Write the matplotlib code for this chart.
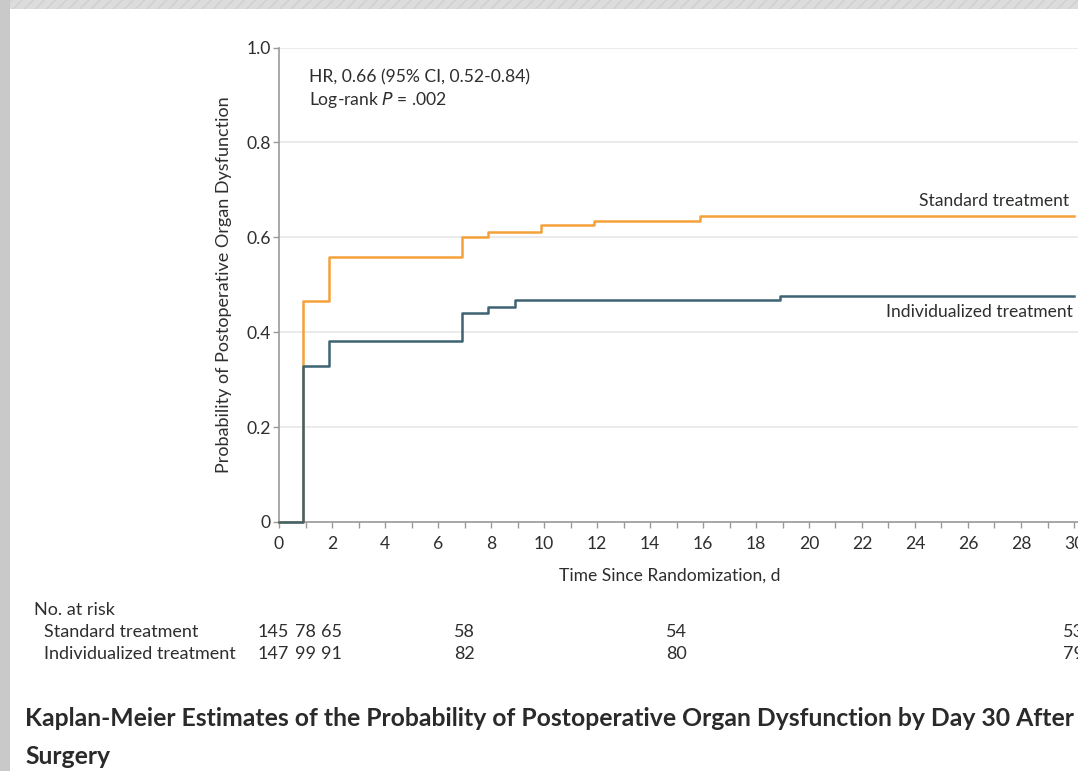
import numpy as np
from matplotlib import pyplot as plt
from matplotlib.patches import Rectangle

# Kaplan-Meier step curves (days, cumulative probability)
std_days = [0, 0.9, 1.9, 6.9, 7.9, 9.9, 11.9, 15.9, 30]
std_prob = [0, 0.466, 0.558, 0.600, 0.611, 0.626, 0.634, 0.645, 0.645]
ind_days = [0, 0.9, 1.9, 6.9, 7.9, 8.9, 18.9, 30]
ind_prob = [0, 0.329, 0.382, 0.441, 0.454, 0.467, 0.476, 0.476]

# number at risk table
risk_days = [0, 1, 2, 7, 15, 30]
risk_std = [145, 78, 65, 58, 54, 53]
risk_ind = [147, 99, 91, 82, 80, 79]

x_ticks = list(range(0, 31, 2))
y_ticks = [0, 0.2, 0.4, 0.6, 0.8, 1.0]
y_tick_labels = ['0', '0.2', '0.4', '0.6', '0.8', '1.0']

orange = '#f5a13a'
blue = '#3d6372'
text_col = '#2e2e2e'
axis_col = '#9a9a9a'
fs = 12.6  # base font size for chart text

plt.rcParams['font.family'] = ['Lato', 'DejaVu Sans']

W, H = 1078, 771
fig = plt.figure(figsize=(W / 100, H / 100), dpi=100)
fig.patch.set_facecolor('white')

# screenshot frame: grey strips on top and left
fig.patches.append(Rectangle((0, 1 - 9 / H), 1, 9 / H, transform=fig.transFigure,
                             facecolor='#dcdcdc', edgecolor='#cfcfcf', hatch='///', linewidth=0, zorder=0))
fig.patches.append(Rectangle((0, 0), 10 / W, 1, transform=fig.transFigure,
                             facecolor='#c9c9c9', edgecolor='none', zorder=0))

# axes placement in pixels: x=0 at 279, 26.5 px per day; y=0 at 522, y=1 at 47.5
x0_px, px_day = 279, 26.5
ax_left = x0_px / W
ax_bottom = (H - 522) / H
ax_top = (H - 47.5) / H
ax = fig.add_axes([ax_left, ax_bottom, 1 - ax_left, ax_top - ax_bottom])
ax.set_xlim(0, (W - x0_px) / px_day)
ax.set_ylim(0, 1)

ax.step(std_days, std_prob, where='post', color=orange, linewidth=1.8, clip_on=False, zorder=3)
ax.step(ind_days, ind_prob, where='post', color=blue, linewidth=1.8, clip_on=False, zorder=4)

for spine in ['top', 'right']:
    ax.spines[spine].set_visible(False)
for spine in ['left', 'bottom']:
    ax.spines[spine].set_color(axis_col)
    ax.spines[spine].set_linewidth(1.2)

ax.set_yticks(y_ticks, y_tick_labels)
ax.set_xticks(x_ticks)
ax.set_xticks(range(0, 31), minor=True)
ax.tick_params(axis='both', which='both', direction='out', length=4, width=1, color=axis_col,
               labelsize=fs, labelcolor=text_col)
ax.tick_params(axis='y', pad=2)
ax.tick_params(axis='x', pad=6)
ax.grid(axis='y', color='#e8e8e8', linewidth=1.2, zorder=0)
ax.set_axisbelow(True)

ax.set_ylabel('Probability of Postoperative Organ Dysfunction', fontsize=13, color=text_col, labelpad=10)
ax.set_xlabel('Time Since Randomization, d', fontsize=fs, color=text_col)
ax.xaxis.set_label_coords(0.489, -0.097)

ax.text(1.15, 0.936, 'HR, 0.66 (95% CI, 0.52-0.84)', fontsize=fs, color=text_col, va='center')
ax.text(1.15, 0.889, 'Log-rank $\\mathit{P}$ = .002', fontsize=fs, color=text_col, va='center')
ax.text(29.8, 0.676, 'Standard treatment', fontsize=fs, color=text_col, ha='right', va='center')
ax.text(29.95, 0.443, 'Individualized treatment', fontsize=fs, color=text_col, ha='right', va='center')

# number at risk table under the axis
def fig_y(py):
    return 1 - py / H

tfs = 13
fig.text(34 / W, fig_y(610), 'No. at risk', fontsize=tfs, color=text_col, va='center')
fig.text(44 / W, fig_y(632), 'Standard treatment', fontsize=tfs, color=text_col, va='center')
fig.text(44 / W, fig_y(654), 'Individualized treatment', fontsize=tfs, color=text_col, va='center')
for d, s, i in zip(risk_days, risk_std, risk_ind):
    # counts are right-aligned just past the day position
    px = (x0_px + d * px_day + 10) / W
    fig.text(px, fig_y(632), str(s), fontsize=tfs, color=text_col, ha='right', va='center')
    fig.text(px, fig_y(654), str(i), fontsize=tfs, color=text_col, ha='right', va='center')

fig.text(25 / W, fig_y(718), 'Kaplan-Meier Estimates of the Probability of Postoperative Organ Dysfunction by Day 30 After',
         fontsize=17.8, fontweight='bold', color='#2a2a2a', va='center')
fig.text(25 / W, fig_y(757), 'Surgery', fontsize=17.8, fontweight='bold', color='#2a2a2a', va='center')

fig.savefig('out.png', dpi=100)
